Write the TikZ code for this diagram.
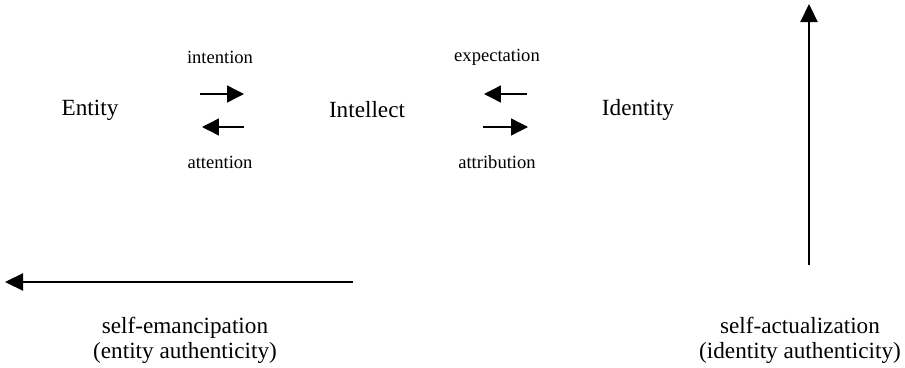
\documentclass[tikz,border=0pt]{standalone}
\usepackage{fontspec}
\setmainfont{Liberation Serif}
\usetikzlibrary{arrows.meta}

\begin{document}
\begin{tikzpicture}[main/.style={font=\fontsize{16.5}{18}\selectfont, inner sep=1pt},
  lab/.style={font=\fontsize{13.2}{15}\selectfont, inner sep=1pt},
  flow/.style={-{Triangle[length=4.2mm, width=4.2mm]}, line width=1pt},
  drift/.style={-{Triangle[length=4.5mm, width=4.3mm]}, line width=1pt}]
\useasboundingbox (0,0) rectangle (22.625,-9.175);
\node[main] (ent) at (2.25,-2.75) {Entity}; \node[main] (intl) at (9.175,-2.75) {Intellect};
\node[main] (idt) at (15.95,-2.75) {Identity};
\node[lab] (inten) at (5.5,-1.425) {intention}; \node[lab] (atten) at (5.5,-4.05) {attention};
\node[lab] (expec) at (12.425,-1.425) {expectation}; \node[lab] (attri) at (12.425,-4.05) {attribution};
\coordinate (in1) at (5.0,-2.35); \coordinate (in2) at (6.1,-2.35);
\coordinate (at1) at (6.1,-3.175); \coordinate (at2) at (5.05,-3.175);
\coordinate (ex1) at (13.175,-2.35); \coordinate (ex2) at (12.1,-2.35);
\coordinate (ab1) at (12.075,-3.175); \coordinate (ab2) at (13.2,-3.175);
\draw[flow] (in1) -- (in2); \draw[flow] (at1) -- (at2);
\draw[flow] (ex1) -- (ex2); \draw[flow] (ab1) -- (ab2);
\coordinate (em1) at (8.825,-7.05); \coordinate (em2) at (0.125,-7.05);
\coordinate (ac1) at (20.225,-6.625); \coordinate (ac2) at (20.225,-0.1);
\draw[drift] (em1) -- (em2); \draw[drift] (ac1) -- (ac2);
\node[main, align=center] (eman) at (4.625,-8.5) {self-emancipation\\(entity authenticity)};
\node[main, align=center] (actu) at (20.0,-8.5) {self-actualization\\(identity authenticity)};
\end{tikzpicture}
\end{document}
